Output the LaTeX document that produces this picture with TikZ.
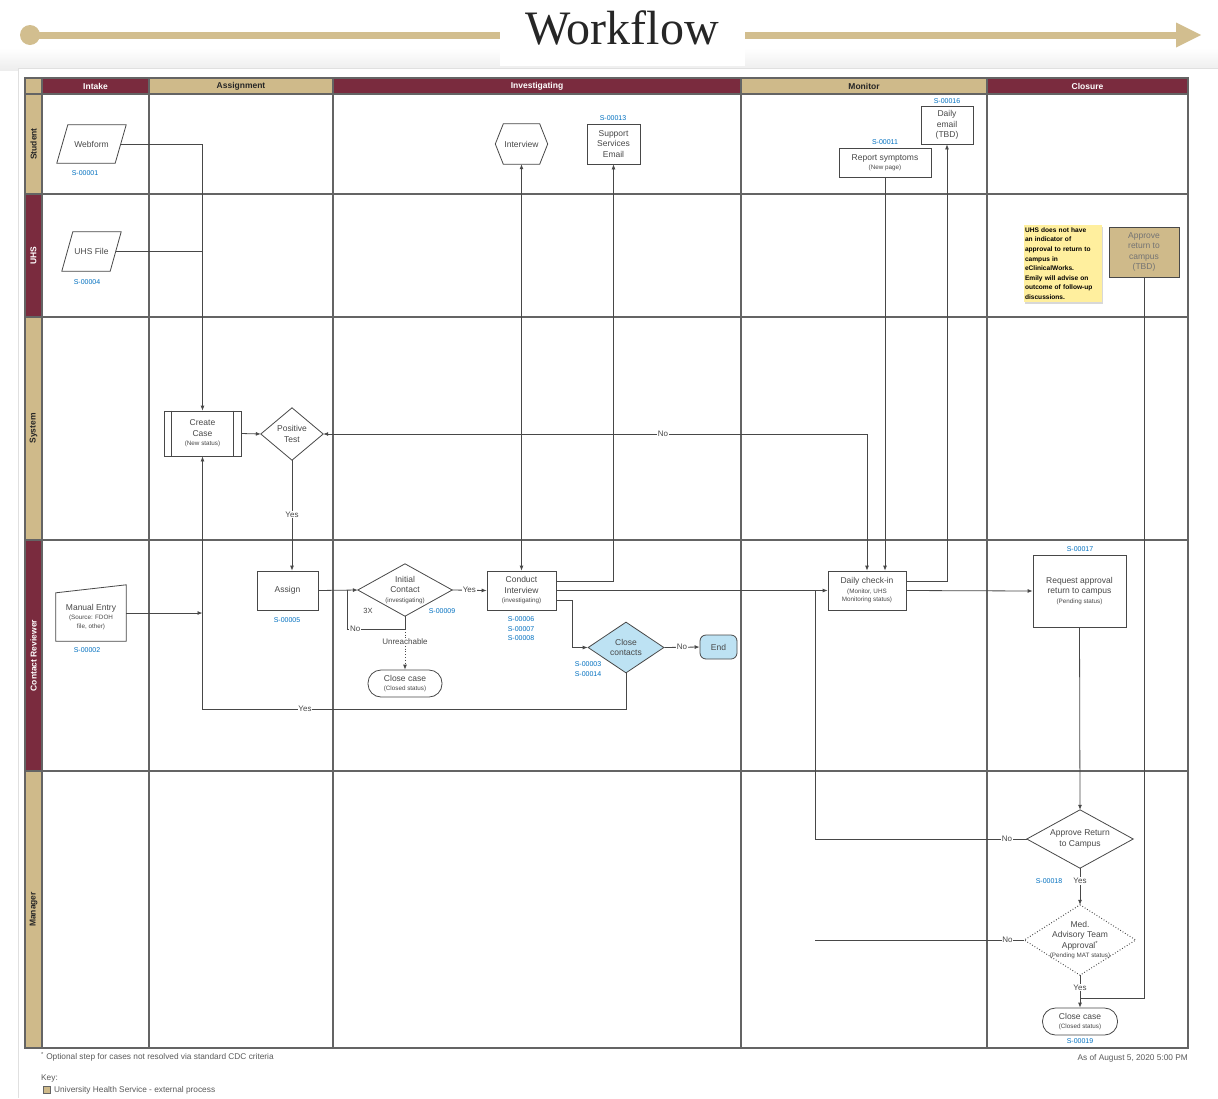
\documentclass[tikz,border=0pt]{standalone}
\usepackage{fontspec}
\setmainfont{Liberation Sans}
\newfontfamily\titlefont{Liberation Serif}
\usetikzlibrary{arrows.meta,shapes.geometric,shadows}
\definecolor{wfMaroon}{RGB}{122,43,62}
\definecolor{wfTan}{RGB}{207,186,138}
\definecolor{wfBar}{RGB}{210,190,143}
\definecolor{wfInk}{RGB}{72,72,72}
\definecolor{wfGrid}{RGB}{100,100,100}
\definecolor{wfId}{RGB}{0,112,192}
\definecolor{wfPale}{RGB}{189,226,243}
\definecolor{wfNote}{RGB}{255,239,158}
\newcommand\subtxt[1]{{\fontsize{6.3}{7.5}\selectfont #1}}
\tikzset{
  laneline/.style={draw=wfGrid, line width=1.2pt},
  colhead/.style={draw=wfGrid, line width=1.2pt, minimum height=16, inner sep=0pt,
    font=\fontsize{8.5}{9}\selectfont\bfseries},
  lanehead/.style={draw=wfGrid, line width=1.2pt, minimum height=17, inner sep=0pt,
    rotate=90, font=\fontsize{8.5}{9}\selectfont\bfseries},
  box/.style={draw=wfInk, line width=0.8pt, fill=white, inner sep=1pt, align=center, text=wfInk},
  txt/.style={inner sep=0pt, align=center, text=wfInk},
  shapeline/.style={draw=wfInk, line width=0.8pt},
  sid/.style={text=wfId, font=\fontsize{7}{8}\selectfont, inner sep=0pt},
  conn/.style={draw=wfInk, line width=0.8pt},
  flow/.style={conn, -{Latex[length=5pt,width=4pt]}},
  flowboth/.style={conn, {Latex[length=5pt,width=4pt]}-{Latex[length=5pt,width=4pt]}},
  lab/.style={fill=white, inner sep=0.8pt, text=wfInk, font=\fontsize{8}{9}\selectfont},
  plaintxt/.style={font=\fontsize{8.3}{10}\selectfont, text=wfInk!90, inner sep=0pt},
}
\begin{document}
\begin{tikzpicture}[x=1pt, y=-1pt, font=\fontsize{8.5}{10.5}\selectfont]
\useasboundingbox (0,0) rectangle (1218,1098);

% page background and panel
\shade[top color=white, bottom color=black!7] (0,48) rectangle (1218,70);
\fill[white] (18,68) rectangle (1218,1098);
\draw[black!12, line width=1pt] (18,1098) -- (18,68) -- (1218,68);
\fill[white] (500,0) rectangle (745,66);

% workflow bar
\coordinate (barL) at (30,35);
\coordinate (barM1) at (500,35);
\coordinate (barM2) at (745,35);
\coordinate (barR) at (1180,35);
\fill[wfBar] (barL) circle (10);
\draw[wfBar, line width=7pt] (barL) -- (barM1);
\draw[wfBar, line width=7pt] (barM2) -- (barR);
\fill[wfBar] (1176,22.5) -- (1201,35) -- (1176,47.5) -- cycle;
\node[font=\titlefont\fontsize{48}{50}\selectfont, text=black!85, inner sep=0pt] (title) at (622,28) {Workflow};

% swimlane grid
\draw[laneline] (25,78) rectangle (1188,1048);
\foreach \x in {42,149,333,741,987} \draw[laneline] (\x,78) -- (\x,1048);
\foreach \y in {94,194,317,540,771} \draw[laneline] (25,\y) -- (1188,\y);

% column headers
\node[colhead, fill=wfTan, minimum width=17] (corner) at (33.5,86) {};
\node[colhead, fill=wfMaroon, text=white, minimum width=107] (hIntake) at (95.5,86) {Intake};
\node[colhead, fill=wfTan, text=black!85, minimum width=184] (hAssign) at (241,86) {Assignment};
\node[colhead, fill=wfMaroon, text=white, minimum width=408] (hInvest) at (537,86) {Investigating};
\node[colhead, fill=wfTan, text=black!85, minimum width=246] (hMonitor) at (864,86) {Monitor};
\node[colhead, fill=wfMaroon, text=white, minimum width=201] (hClosure) at (1087.5,86) {Closure};

% lane headers
\node[lanehead, fill=wfTan, text=black!85, minimum width=100] (lStudent) at (33.5,144) {Student};
\node[lanehead, fill=wfMaroon, text=white, minimum width=123] (lUHS) at (33.5,255.5) {UHS};
\node[lanehead, fill=wfTan, text=black!85, minimum width=223] (lSystem) at (33.5,428.5) {System};
\node[lanehead, fill=wfMaroon, text=white, minimum width=231] (lContact) at (33.5,655.5) {Contact Reviewer};
\node[lanehead, fill=wfTan, text=black!85, minimum width=277] (lManager) at (33.5,909.5) {Manager};

% ---- Intake ----
\node[txt, minimum width=58, minimum height=38] (web) at (91.5,144) {Webform};
\draw[shapeline] ([xshift=5.5]web.north west) -- ([xshift=5.5]web.north east)
  -- ([xshift=-5.5]web.south east) -- ([xshift=-5.5]web.south west) -- cycle;
\node[sid] (idWeb) at (85,173) {S-00001};

\node[txt, minimum width=48, minimum height=39] (uhs) at (91.5,251.5) {UHS File};
\draw[shapeline] ([xshift=5.5]uhs.north west) -- ([xshift=5.5]uhs.north east)
  -- ([xshift=-5.5]uhs.south east) -- ([xshift=-5.5]uhs.south west) -- cycle;
\node[sid] (idUhs) at (87,282) {S-00004};

\node[txt, minimum width=70, minimum height=48] (manual) at (91,617)
  {Manual Entry\\[-1pt]\subtxt{(Source: FDOH}\\[-2pt]\subtxt{file, other)}};
\draw[shapeline] (manual.south west) -- (manual.north west) -- ([yshift=8]manual.north east)
  -- (manual.south east) -- cycle;
\node[sid] (idManual) at (87,650) {S-00002};

% ---- Assignment ----
\node[box, minimum width=77, minimum height=45] (create) at (202.5,433.5)
  {Create\\Case\\[-1pt]\subtxt{(New status)}};
\draw[shapeline] ([xshift=8]create.north west) -- ([xshift=8]create.south west);
\draw[shapeline] ([xshift=-8]create.north east) -- ([xshift=-8]create.south east);

\node[txt, minimum width=62, minimum height=52] (pos) at (292,434) {Positive\\Test};
\draw[shapeline] (pos.north) -- (pos.east) -- (pos.south) -- (pos.west) -- cycle;

\node[box, minimum width=61, minimum height=39] (assign) at (287.5,590.5) {Assign};
\node[sid] (idAssign) at (287,620) {S-00005};

% ---- Investigating ----
\node[txt, minimum width=94, minimum height=52] (ic) at (405,590)
  {Initial\\Contact\\[-1pt]\subtxt{(investigating)}};
\draw[shapeline] (ic.north) -- (ic.east) -- (ic.south) -- (ic.west) -- cycle;
\node[txt, font=\fontsize{7.5}{8}\selectfont] (threeX) at (368,611) {3X};
\node[sid] (idIc) at (442,611) {S-00009};

\node[box, rounded corners=13, minimum width=74, minimum height=27, inner sep=0pt] (closeA) at (405,683.5)
  {Close case\\[-2pt]\subtxt{(Closed status)}};

\node[box, minimum width=69, minimum height=39, inner sep=0pt] (ci) at (521.5,590.5)
  {Conduct\\Interview\\[-1pt]\subtxt{(investigating)}};
\node[sid] (idCi6) at (521,619) {S-00006};
\node[sid] (idCi7) at (521,629) {S-00007};
\node[sid] (idCi8) at (521,638) {S-00008};

\node[txt, minimum width=52, minimum height=40] (intv) at (521.5,144) {Interview};
\draw[shapeline] (intv.west) -- ([xshift=8]intv.north west) -- ([xshift=-8]intv.north east)
  -- (intv.east) -- ([xshift=-8]intv.south east) -- ([xshift=8]intv.south west) -- cycle;

\node[box, minimum width=53, minimum height=40, inner sep=0pt] (sup) at (613.5,144) {Support\\Services\\Email};
\node[sid] (idSup) at (613,118) {S-00013};

\node[diamond, draw=wfInk, line width=0.8pt, fill=wfPale, aspect=1.5, minimum width=76,
  minimum height=51, inner sep=0pt, align=center, text=wfInk] (cc) at (626,647.5) {Close\\contacts};
\node[sid] (idCc3) at (588,664) {S-00003};
\node[sid] (idCc14) at (588,674) {S-00014};

\node[box, fill=wfPale, rounded corners=6, minimum width=37, minimum height=24] (end) at (718.5,647) {End};

% ---- Monitor ----
\node[box, minimum width=92, minimum height=29, inner sep=0pt] (rs) at (885,162.5)
  {Report symptoms\\[-2pt]\subtxt{(New page)}};
\node[sid] (idRs) at (885,142) {S-00011};

\node[box, minimum width=52, minimum height=38, inner sep=0pt] (email) at (947,125) {Daily\\email\\(TBD)};
\node[sid] (idEmail) at (947,101) {S-00016};

\node[box, minimum width=78, minimum height=39, inner sep=0pt] (dci) at (867,590.5)
  {Daily check-in\\[-1pt]\subtxt{(Monitor, UHS}\\[-2pt]\subtxt{Monitoring status)}};

% ---- Closure ----
\node[fill=wfNote, drop shadow={shadow xshift=1.5pt, shadow yshift=-2pt, opacity=0.3},
  text width=75, minimum height=77, inner sep=1.5pt, align=left,
  font=\fontsize{6.6}{9.6}\selectfont\bfseries, text=black] (sticky) at (1062.5,263.5)
  {UHS does not have\\an indicator of\\approval to return to\\campus in\\eClinicalWorks.\\Emily will advise on\\outcome of follow-up\\discussions.};

\node[box, fill=wfTan, text=black!55, minimum width=70, minimum height=50, inner sep=0pt] (tbd) at (1144,252)
  {Approve\\return to\\campus\\(TBD)};

\node[box, minimum width=93, minimum height=72, inner sep=0pt] (req) at (1079.5,591)
  {Request approval\\return to campus\\[-1pt]\subtxt{(Pending status)}};
\node[sid] (idReq) at (1080,549) {S-00017};

\node[txt, minimum width=106, minimum height=58] (ar) at (1080,839) {Approve Return\\to Campus};
\draw[shapeline] (ar.north) -- (ar.east) -- (ar.south) -- (ar.west) -- cycle;
\node[sid] (idAr) at (1049,881) {S-00018};

\node[txt, minimum width=111, minimum height=70] (mat) at (1080,940)
  {Med.\\Advisory Team\\Approval\textsuperscript{*}\\[-1pt]\subtxt{(Pending MAT status)}};
\draw[shapeline, dotted, line width=1pt] (mat.north) -- (mat.east) -- (mat.south) -- (mat.west) -- cycle;

\node[box, rounded corners=13, minimum width=75, minimum height=27, inner sep=0pt] (closeB) at (1080,1021.5)
  {Close case\\[-2pt]\subtxt{(Closed status)}};
\node[sid] (idCloseB) at (1080,1041) {S-00019};

% ---- connectors ----
\coordinate (yesloop) at (626,709);
\coordinate (noloop) at (347,629);
\coordinate (mjoin) at (815,590.5);
\coordinate (cjoin) at (1080,998);

\draw[flow] (web.east) -| (create.north);
\draw[conn] (uhs.east) -- (uhs.east -| create.north);
\draw[flow] ([yshift=4]manual.east) -- ([yshift=4]manual.east -| create.south);
\draw[flow] (cc.south) -- (yesloop) -| (create.south) node[lab, pos=0.379] {Yes};
\draw[flow] (create.east) -- (pos.west);
\draw[flow] (pos.south) -- (pos.south |- assign.north) node[lab, pos=0.49] {Yes};
\draw[flowboth] (pos.east) -| (dci.north) node[lab, pos=0.3125] {No};

\draw[flow] (assign.east) -- (ic.west);
\draw[conn] (ic.south) |- (noloop) node[lab, pos=0.93] {No} -- (noloop |- ic.west);
\draw[flow, dotted] (noloop -| ic.south) -- (closeA.north) node[lab, pos=0.32] {Unreachable};
\draw[flow] (ic.east) -- (ci.west) node[lab, midway] {Yes};

\draw[flowboth] (ci.north) -- (intv.south);
\draw[flow] ([yshift=9]ci.east) -| (sup.south);
\draw[flow] (ci.east) -- (dci.west);
\draw[flow] ([yshift=-10]ci.east) -- ++(16,0) |- (cc.west);
\draw[flow] (cc.east) -- (end.west) node[lab, midway] {No};

\draw[flow] (rs.south) -- (rs.south |- dci.north);
\draw[flow] ([yshift=9]dci.east) -| (email.south);
\draw[flow] (dci.east) -- (req.west);

\draw[flow] (req.south) -- (ar.north);
\draw[conn] (ar.west) -| (mjoin) node[lab, pos=0.047] {No};
\draw[conn] (mat.west) -- (mat.west -| mjoin) node[lab, pos=0.08] {No};
\draw[flow] (ar.south) -- (mat.north) node[lab, pos=0.35] {Yes};
\draw[flow] (mat.south) -- (closeB.north) node[lab, pos=0.39] {Yes};
\draw[conn] (tbd.south) |- (cjoin);

% ---- footer ----
\node[plaintxt, anchor=west] (footnote) at (41,1057)
  {\textsuperscript{*} Optional step for cases not resolved via standard CDC criteria};
\node[plaintxt, anchor=west] (keyhead) at (41,1078) {Key:};
\node[draw=wfGrid, fill=wfTan, minimum size=7, inner sep=0pt] (keybox) at (47,1090) {};
\node[plaintxt, anchor=west] (keytext) at (54,1090) {University Health Service - external process};
\node[plaintxt, anchor=east] (asof) at (1188,1058) {As of August 5, 2020 5:00 PM};
\end{tikzpicture}
\end{document}
